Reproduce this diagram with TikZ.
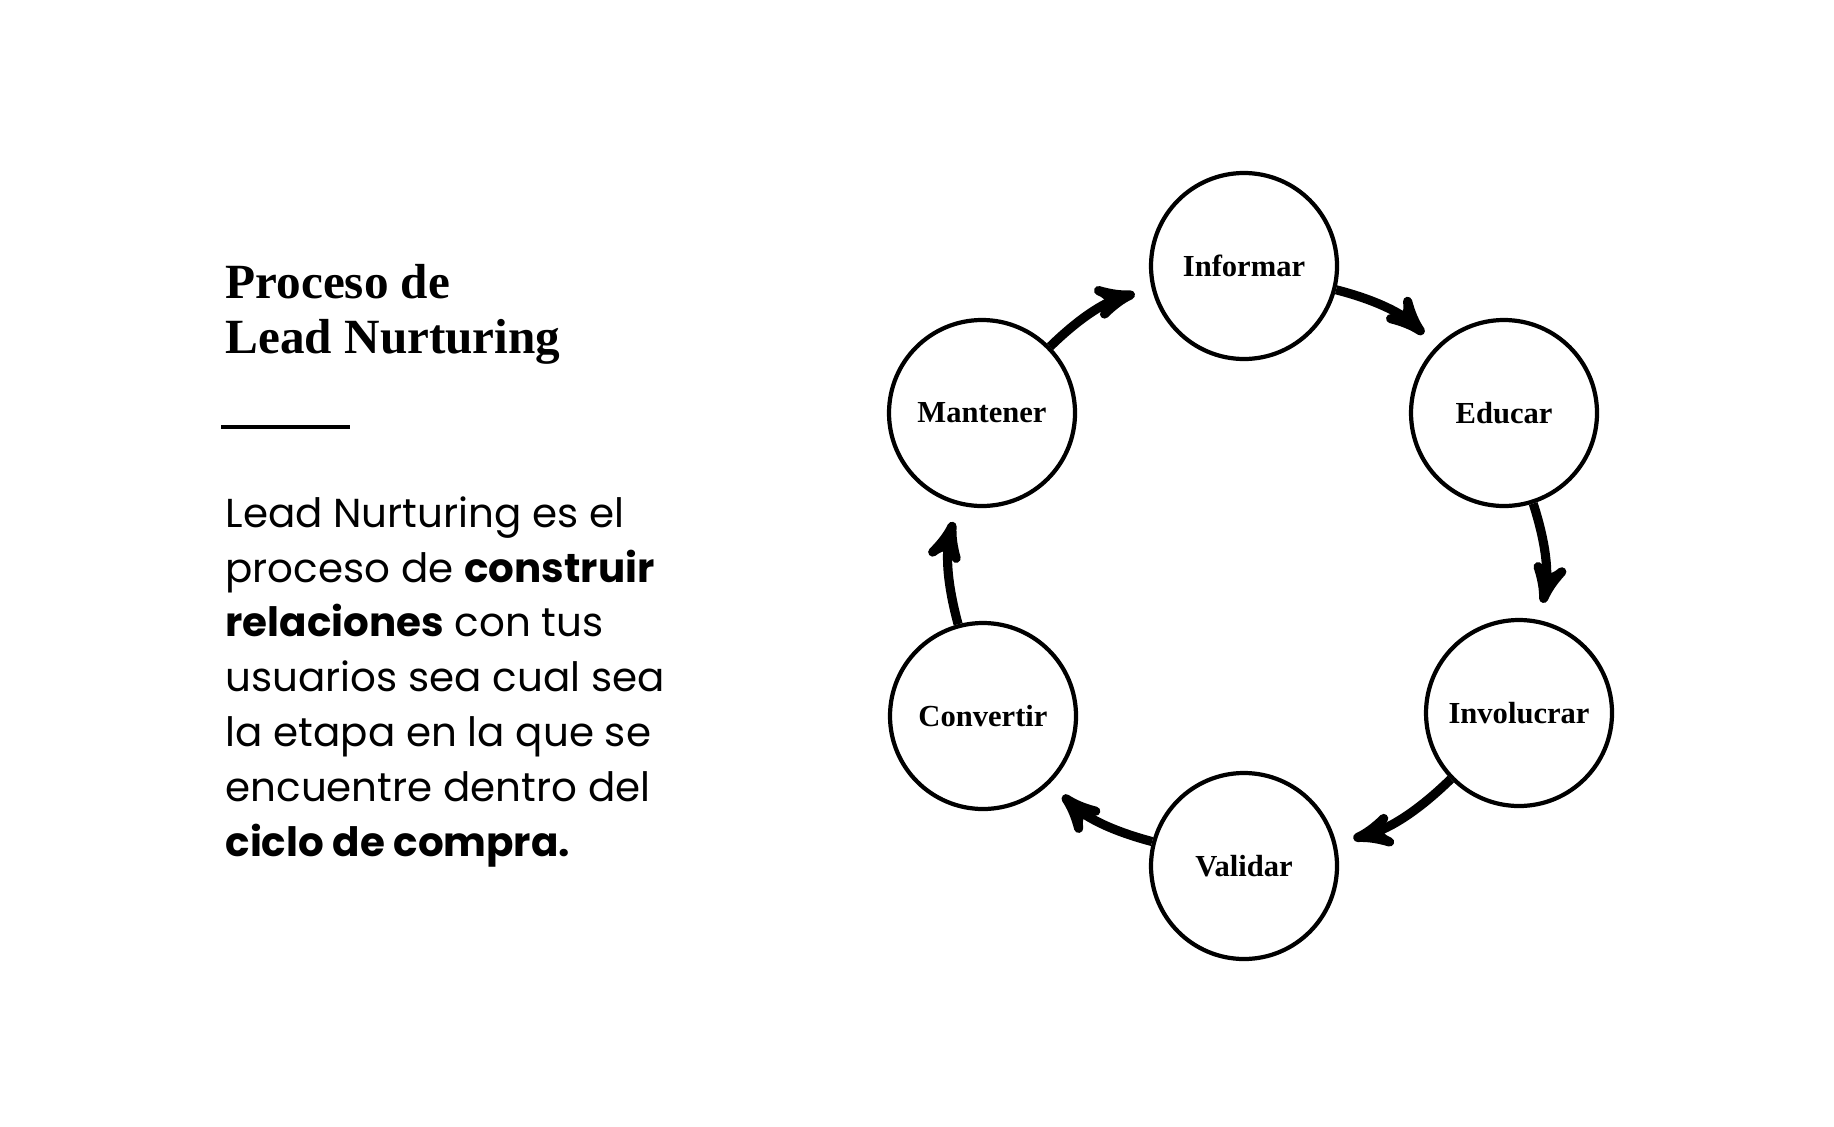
\documentclass[tikz,border=0pt]{standalone}
\usepackage{fontspec}
\setmainfont{Liberation Serif}
\newfontfamily\bodyfont{Poppins}
\usetikzlibrary{arrows}

\begin{document}
\begin{tikzpicture}[->,>=stealth',shorten >=5pt,line width=2.6pt,stage node/.style={circle,draw,line width=1.2pt,minimum size=1.86cm,inner sep=0pt,font=\bfseries\fontsize{8.7}{10}\selectfont}]
  \useasboundingbox (0,0) rectangle (18.34,-11.26);

  \node[anchor=north west,align=left,inner sep=0pt,font=\bfseries\fontsize{14}{15.6}\selectfont] (title) at (2.21,-2.6) {Proceso de\\Lead Nurturing};
  \draw[-,line width=1.3pt] (2.21,-4.27) -- (3.68,-4.27);
  \node[anchor=north west,align=left,inner sep=0pt,font=\bodyfont\fontsize{11.5}{15.6}\selectfont] (body) at (2.21,-4.92) {Lead Nurturing es el\\proceso de \textbf{construir}\\\textbf{relaciones} con tus\\usuarios sea cual sea\\la etapa en la que se\\encuentre dentro del\\\textbf{ciclo de compra.}};

  \node[stage node] (inf) at (12.44,-2.66) {Informar};
  \node[stage node] (edu) at (15.04,-4.13) {Educar};
  \node[stage node] (inv) at (15.19,-7.13) {Involucrar};
  \node[stage node] (val) at (12.44,-8.66) {Validar};
  \node[stage node] (con) at (9.83,-7.16) {Convertir};
  \node[stage node] (man) at (9.82,-4.13) {Mantener};

\path
  (inf) edge[bend left=15] (edu)
  (edu) edge[bend left=15] (inv)
  (inv) edge[bend left=15] (val)
  (val) edge[bend left=15] (con)
  (con) edge[bend left=15] (man)
  (man) edge[bend left=15] (inf)
;
\end{tikzpicture}
\end{document}
